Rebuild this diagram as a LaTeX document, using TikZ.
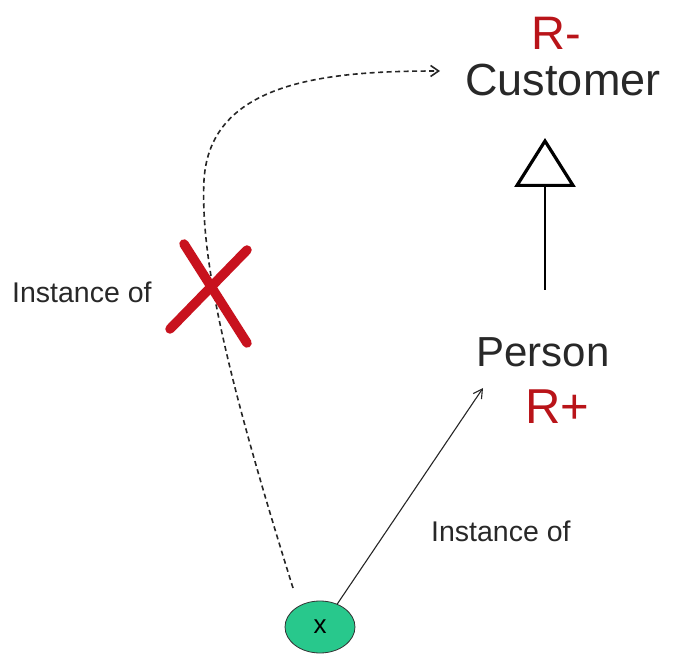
\documentclass[tikz,border=0pt]{standalone}
\usepackage{fontspec}
\setmainfont{Liberation Sans}
\usetikzlibrary{arrows.meta,shapes.geometric}
\definecolor{txtgray}{RGB}{40,40,40}
\definecolor{rred}{RGB}{185,20,25}
\definecolor{xred}{RGB}{200,18,30}
\definecolor{teal}{RGB}{40,200,140}
\tikzset{
  bigtext/.style={font=\fontsize{45}{50}\selectfont, text=txtgray, inner sep=0pt, anchor=base},
  roletext/.style={font=\fontsize{49}{54}\selectfont, text=rred, inner sep=0pt, anchor=base, text depth=0pt},
  labeltext/.style={font=\fontsize{28.5}{32}\selectfont, text=txtgray, inner sep=0pt, anchor=base west},
  instarrow/.style={draw=black!85, line width=1.1pt, -{Straight Barb[length=9pt,width=10pt]}},
  crossline/.style={draw=xred, line width=9.5pt, line cap=round},
}
\begin{document}
\begin{tikzpicture}[x=1pt,y=-1pt]
\useasboundingbox (0,0) rectangle (673,655);
% texts
\node[roletext, font=\fontsize{47}{52}\selectfont] (rminus) at (556,50) {R-};
\node[bigtext] (customer) at (563,96) {Customer};
\node[bigtext, font=\fontsize{42}{46}\selectfont] (person) at (543,367) {Person};
\node[roletext] (rplus) at (557,424) {R+};
\node[labeltext] (inst1) at (12,303) {Instance of};
\node[labeltext] (inst2) at (431,541) {Instance of};
% object x
\node[ellipse, draw=black!80, line width=0.8pt, fill=teal, minimum width=70pt, minimum height=52pt, inner sep=0pt, font=\fontsize{26}{28}\selectfont] (obj) at (320,627) {x};
% generalization
\coordinate (genbot) at (545,290);
\coordinate (gentop) at (545,138);
\draw[line width=1.8pt, -{Triangle[open, length=49pt, width=61pt, line width=3.2pt]}] (genbot) -- (gentop);
% solid instance arrow
\coordinate (ptip) at (483,388);
\draw[instarrow] (obj.north east) ++(-8,-4) -- (ptip);
% dashed instance arrow
\coordinate (dstart) at (293,588);
\coordinate (dend) at (440,71);
\draw[draw=black!85, line width=1.6pt, dash pattern=on 5pt off 3.5pt, -{Straight Barb[length=8pt,width=11pt]}]
  (dstart) .. controls (228,380) and (200,260) .. (204,180)
  .. controls (210,80) and (330,71) .. (dend);
% red cross
\coordinate (xa1) at (184,244);
\coordinate (xa2) at (247,343);
\coordinate (xb1) at (170,329);
\coordinate (xb2) at (247,250);
\draw[crossline] (xa1) -- (xa2);
\draw[crossline] (xb1) -- (xb2);
\end{tikzpicture}
\end{document}
